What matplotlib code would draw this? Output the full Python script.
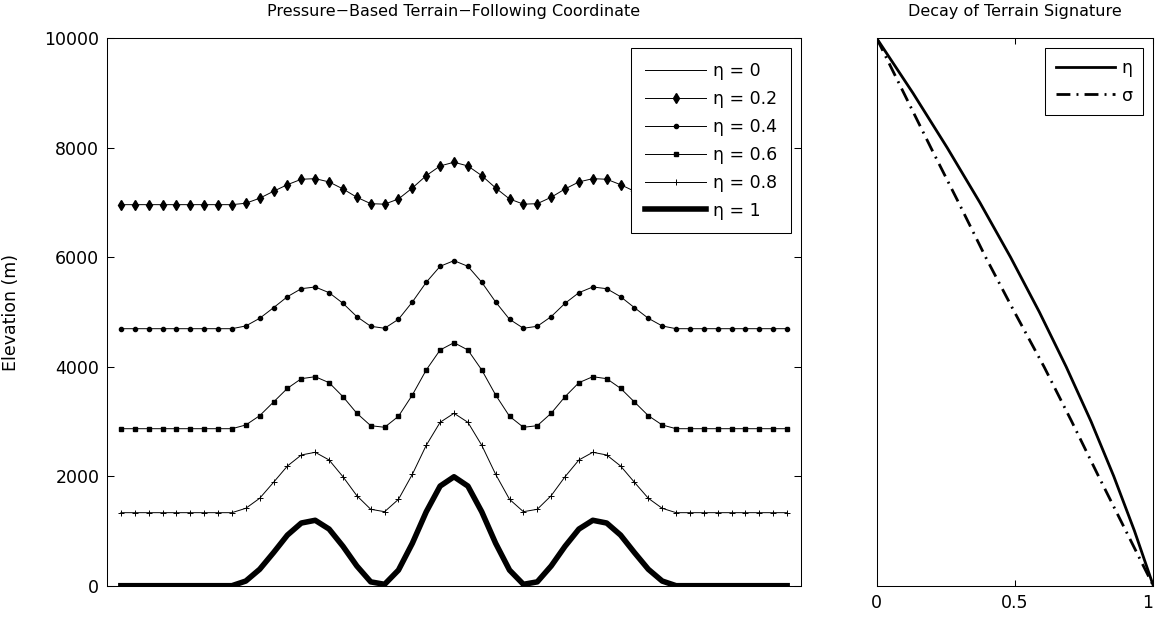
import matplotlib
matplotlib.use("Agg")
import matplotlib.pyplot as plt
import numpy as np

plt.rcParams['font.family'] = ['DejaVu Sans']
plt.rcParams['axes.linewidth'] = 0.75

# ---------------- data ----------------
eta_levels = ["η = 0", "η = 0.2", "η = 0.4", "η = 0.6", "η = 0.8", "η = 1"]

eta0 = [10000] * 49

eta02 = [6961, 6961, 6961, 6961, 6961, 6961, 6961, 6961, 6961,
         6987, 7078, 7206, 7326, 7425, 7436, 7376, 7248, 7096, 6979, 6970,
         7065, 7266, 7491, 7668, 7736, 7668, 7491, 7266, 7065,
         6970, 6979, 7096, 7248, 7376, 7436, 7425, 7326, 7206, 7078, 6987,
         6961, 6961, 6961, 6961, 6961, 6961, 6961, 6961, 6961]

eta04 = [4695, 4695, 4695, 4695, 4695, 4695, 4695, 4695, 4695,
         4745, 4885, 5079, 5280, 5426, 5457, 5353, 5159, 4915, 4739, 4703,
         4867, 5183, 5543, 5835, 5938, 5835, 5543, 5183, 4867,
         4703, 4739, 4915, 5159, 5353, 5457, 5426, 5280, 5079, 4885, 4745,
         4695, 4695, 4695, 4695, 4695, 4695, 4695, 4695, 4695]

eta06 = [2868, 2868, 2868, 2868, 2868, 2868, 2868, 2868, 2868,
         2936, 3106, 3356, 3606, 3782, 3818, 3709, 3453, 3150, 2923, 2894,
         3095, 3484, 3941, 4306, 4440, 4306, 3941, 3484, 3095,
         2894, 2923, 3150, 3453, 3709, 3818, 3782, 3606, 3356, 3106, 2936,
         2868, 2868, 2868, 2868, 2868, 2868, 2868, 2868, 2868]

eta08 = [1334, 1334, 1334, 1334, 1334, 1334, 1334, 1334, 1334,
         1414, 1597, 1889, 2187, 2388, 2437, 2297, 1991, 1644, 1396, 1352,
         1578, 2035, 2565, 2985, 3150, 2985, 2565, 2035, 1578,
         1352, 1396, 1644, 1991, 2297, 2437, 2388, 2187, 1889, 1597, 1414,
         1334, 1334, 1334, 1334, 1334, 1334, 1334, 1334, 1334]

eta1 = [0, 0, 0, 0, 0, 0, 0, 0, 0,
        85, 300, 605, 925, 1145, 1195, 1035, 720, 360, 70, 25,
        285, 775, 1350, 1820, 1990, 1820, 1350, 775, 285,
        25, 70, 360, 720, 1035, 1195, 1145, 925, 605, 300, 85,
        0, 0, 0, 0, 0, 0, 0, 0, 0]

yticks_left = [0, 2000, 4000, 6000, 8000, 10000]

decay_height = [10000, 9000, 8000, 7000, 6000, 5000, 4000, 3000, 2000, 1000, 0]
eta_decay = [0, 0.131, 0.255, 0.373, 0.484, 0.588, 0.685, 0.775, 0.857, 0.932, 1.0]
sigma_decay = [0, 0.098, 0.196, 0.296, 0.394, 0.498, 0.605, 0.705, 0.802, 0.901, 1.0]
xticks_right = [0, 0.5, 1]
xticklabels_right = ["0", "0.5", "1"]

# ---------------- figure ----------------
W, H = 1156, 617
fig = plt.figure(figsize=(W / 100, H / 100), dpi=100)
bottom = (H - 585.7) / H
height = 547.4 / H
ax1 = fig.add_axes([107 / W, bottom, 694 / W, height])
ax2 = fig.add_axes([876.7 / W, bottom, 276.6 / W, height])

x = np.arange(len(eta1))
thin = 0.7
ax1.plot(x, eta0, color='k', lw=thin, label=eta_levels[0], clip_on=False)
ax1.plot(x, eta02, color='k', lw=thin, marker='d', ms=4.8, mfc='k', mec='k',
         label=eta_levels[1])
ax1.plot(x, eta04, color='k', lw=thin, marker='o', ms=3, mfc='k', mec='k',
         label=eta_levels[2])
ax1.plot(x, eta06, color='k', lw=thin, marker='s', ms=3, mfc='k', mec='k',
         label=eta_levels[3])
ax1.plot(x, eta08, color='k', lw=thin, marker='+', ms=5, mew=0.7, mec='k',
         label=eta_levels[4])
ax1.plot(x, eta1, color='k', lw=4, solid_joinstyle='round', label=eta_levels[5])

ax1.set_xlim(-1, len(eta1))
ax1.set_ylim(0, 10000)
ax1.set_xticks([])
ax1.set_yticks(yticks_left)
ax1.set_yticklabels([str(v) for v in yticks_left])
ax1.tick_params(axis='y', direction='in', length=5, width=0.75, right=True,
                labelsize=12.5, pad=5.5)
ax1.set_ylabel("Elevation (m)", fontsize=12.5)
ax1.yaxis.set_label_coords(-0.126, 0.5)
ax1.set_title("Pressure−Based Terrain−Following Coordinate", fontsize=11.5, pad=16)

leg1 = ax1.legend(loc='upper right', fontsize=12.5, frameon=True, fancybox=False,
                  edgecolor='k', framealpha=1, handlelength=3.5, handletextpad=0.4,
                  labelspacing=0.57, borderpad=0.8, borderaxespad=0.57)
leg1.get_frame().set_linewidth(0.75)

# right panel
ax2.plot(eta_decay, decay_height, color='k', lw=2, label='η',
         solid_joinstyle='round')
ax2.plot(sigma_decay, decay_height, color='k', lw=2,
         linestyle=(0, (5, 2.2, 0.7, 2.2)), label='σ')
ax2.set_xlim(0, 1)
ax2.set_ylim(0, 10000)
ax2.set_yticks([])
ax2.set_xticks(xticks_right)
ax2.set_xticklabels(xticklabels_right)
ax2.tick_params(axis='x', direction='in', length=4, width=0.75, top=True,
                labelsize=12.5, pad=6)
ax2.get_xticklabels()[-1].set_ha('right')
ax2.set_title("Decay of Terrain Signature", fontsize=11.5, pad=16)
leg2 = ax2.legend(loc='upper right', fontsize=12.5, frameon=True, fancybox=False,
                  edgecolor='k', framealpha=1, handlelength=3.4, handletextpad=0.4,
                  labelspacing=0.57, borderpad=0.6, borderaxespad=0.57)
leg2.get_frame().set_linewidth(0.75)

fig.savefig("out.png", dpi=100, facecolor='white')
